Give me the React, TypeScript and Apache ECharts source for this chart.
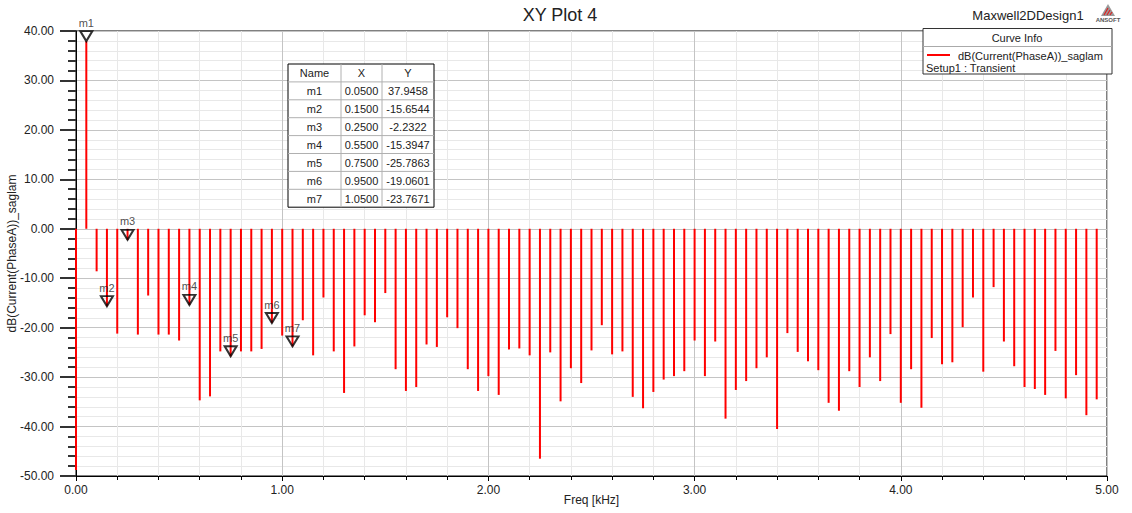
import React, { useEffect, useRef } from "react";
import * as echarts from "echarts";

const freqs = [
  0.0, 0.05, 0.1, 0.15, 0.2, 0.25, 0.3, 0.35, 0.4, 0.45,
  0.5, 0.55, 0.6, 0.65, 0.7, 0.75, 0.8, 0.85, 0.9, 0.95,
  1.0, 1.05, 1.1, 1.15, 1.2, 1.25, 1.3, 1.35, 1.4, 1.45,
  1.5, 1.55, 1.6, 1.65, 1.7, 1.75, 1.8, 1.85, 1.9, 1.95,
  2.0, 2.05, 2.1, 2.15, 2.2, 2.25, 2.3, 2.35, 2.4, 2.45,
  2.5, 2.55, 2.6, 2.65, 2.7, 2.75, 2.8, 2.85, 2.9, 2.95,
  3.0, 3.05, 3.1, 3.15, 3.2, 3.25, 3.3, 3.35, 3.4, 3.45,
  3.5, 3.55, 3.6, 3.65, 3.7, 3.75, 3.8, 3.85, 3.9, 3.95,
  4.0, 4.05, 4.1, 4.15, 4.2, 4.25, 4.3, 4.35, 4.4, 4.45,
  4.5, 4.55, 4.6, 4.65, 4.7, 4.75, 4.8, 4.85, 4.9, 4.95,
];

const dbValues = [
  -48.8, 37.9458, -8.6, -15.6544, -21.2, -2.2322, -21.4, -13.5, -21.4, -21.4,
  -22.6, -15.3947, -34.7, -33.9, -24.8, -25.7863, -24.8, -24.8, -24.3, -19.0601,
  -21.6, -23.7671, -18.5, -25.6, -13.9, -24.8, -33.2, -23.8, -17.5, -18.9,
  -13.0, -28.4, -32.8, -32.0, -23.4, -23.9, -17.9, -20.1, -28.4, -32.8,
  -29.8, -33.6, -24.4, -24.2, -25.6, -46.5, -25.0, -34.9, -28.2, -31.2,
  -24.6, -19.5, -25.4, -24.8, -34.0, -36.3, -33.0, -30.5, -29.8, -28.8,
  -22.6, -29.8, -22.8, -38.4, -32.6, -30.8, -28.2, -26.0, -40.5, -21.1,
  -24.9, -26.8, -28.6, -35.2, -36.8, -28.8, -32.0, -26.0, -30.8, -21.3,
  -35.2, -28.4, -36.2, -22.1, -27.4, -27.0, -19.9, -13.9, -28.9, -11.8,
  -22.8, -27.8, -32.0, -32.4, -33.6, -24.7, -34.3, -29.6, -37.7, -34.5,
];

const markerNames = ["m1", "m2", "m3", "m4", "m5", "m6", "m7"];
const markerX = [0.05, 0.15, 0.25, 0.55, 0.75, 0.95, 1.05];
const markerY = [37.9458, -15.6544, -2.2322, -15.3947, -25.7863, -19.0601, -23.7671];

const tableHeaders = ["Name", "X", "Y"];

const FONT = "'Liberation Sans', Arial, sans-serif";
const ZTOP = 100;

function buildTable() {
  const left = 288;
  const top = 64;
  const colW = [53, 41, 52];
  const rowH = 17.9;
  const totalW = colW.reduce((a, b) => a + b, 0);
  const rows = markerNames.length + 1;
  const totalH = rowH * rows;
  const children: any[] = [];
  children.push({
    type: "rect",
    z: ZTOP,
    shape: { x: left, y: top, width: totalW, height: totalH },
    style: { fill: "#fff", stroke: "#000", lineWidth: 1 },
  });
  for (let r = 1; r < rows; r++) {
    children.push({
      type: "line",
      z: ZTOP + 1,
      shape: { x1: left, y1: top + r * rowH, x2: left + totalW, y2: top + r * rowH },
      style: { stroke: "#b0b0b0", lineWidth: 1 },
    });
  }
  let cx = left;
  for (let c = 0; c < colW.length - 1; c++) {
    cx += colW[c];
    children.push({
      type: "line",
      z: ZTOP + 1,
      shape: { x1: cx, y1: top, x2: cx, y2: top + totalH },
      style: { stroke: "#b0b0b0", lineWidth: 1 },
    });
  }
  const cellText = (r: number, c: number) => {
    if (r === 0) return tableHeaders[c];
    const i = r - 1;
    if (c === 0) return markerNames[i];
    if (c === 1) return markerX[i].toFixed(4);
    return markerY[i].toFixed(4);
  };
  for (let r = 0; r < rows; r++) {
    let x0 = left;
    for (let c = 0; c < colW.length; c++) {
      children.push({
        type: "text",
        z: ZTOP + 2,
        style: {
          text: cellText(r, c),
          x: x0 + colW[c] / 2,
          y: top + r * rowH + rowH / 2 + 0.5,
          align: "center",
          verticalAlign: "middle",
          fontSize: 11,
          fontFamily: FONT,
          fill: "#222",
        },
      });
      x0 += colW[c];
    }
  }
  return { type: "group", silent: true, children };
}

function buildLegend() {
  return {
    type: "group",
    silent: true,
    children: [
      {
        type: "rect",
        z: ZTOP,
        shape: { x: 923, y: 28.5, width: 189, height: 45.5 },
        style: { fill: "#fff", stroke: "#333", lineWidth: 1 },
      },
      {
        type: "line",
        z: ZTOP + 1,
        shape: { x1: 923, y1: 46.5, x2: 1112, y2: 46.5 },
        style: { stroke: "#aaa", lineWidth: 1 },
      },
      {
        type: "text",
        z: ZTOP + 2,
        style: {
          text: "Curve Info", x: 1017, y: 37.5, align: "center", verticalAlign: "middle",
          fontSize: 11, fontFamily: FONT, fill: "#222",
        },
      },
      {
        type: "line",
        z: ZTOP + 2,
        shape: { x1: 927, y1: 55, x2: 950, y2: 55 },
        style: { stroke: "#ff0000", lineWidth: 2 },
      },
      {
        type: "text",
        z: ZTOP + 2,
        style: {
          text: "dB(Current(PhaseA))_saglam", x: 958, y: 55.5, align: "left", verticalAlign: "middle",
          fontSize: 11, fontFamily: FONT, fill: "#222",
        },
      },
      {
        type: "text",
        z: ZTOP + 2,
        style: {
          text: "Setup1 : Transient", x: 926, y: 68, align: "left", verticalAlign: "middle",
          fontSize: 11, fontFamily: FONT, fill: "#222",
        },
      },
    ],
  };
}

function buildHeader() {
  return {
    type: "group",
    silent: true,
    children: [
      {
        type: "text",
        z: ZTOP,
        style: {
          text: "XY Plot 4", x: 560, y: 15, align: "center", verticalAlign: "middle",
          fontSize: 18, fontFamily: FONT, fill: "#222",
        },
      },
      {
        type: "text",
        z: ZTOP,
        style: {
          text: "Maxwell2DDesign1", x: 1028, y: 15, align: "center", verticalAlign: "middle",
          fontSize: 13, fontFamily: FONT, fill: "#222",
        },
      },
      {
        type: "polygon",
        z: ZTOP,
        shape: { points: [[1101, 16], [1108, 4], [1115, 16]] },
        style: { fill: "#9a9a9a" },
      },
      {
        type: "polyline",
        z: ZTOP + 1,
        shape: { points: [[1104, 15], [1108, 8]] },
        style: { stroke: "#e02020", lineWidth: 1.2 },
      },
      {
        type: "polyline",
        z: ZTOP + 1,
        shape: { points: [[1107, 15], [1110, 10]] },
        style: { stroke: "#e02020", lineWidth: 1.2 },
      },
      {
        type: "polyline",
        z: ZTOP + 1,
        shape: { points: [[1110, 15], [1112, 12]] },
        style: { stroke: "#e02020", lineWidth: 1.2 },
      },
      {
        type: "text",
        z: ZTOP,
        style: {
          text: "ANSOFT", x: 1108, y: 19.5, align: "center", verticalAlign: "middle",
          fontSize: 6, fontWeight: "bold", fontFamily: FONT, fill: "#555",
        },
      },
    ],
  };
}

export default function App() {
  const ref = useRef<HTMLDivElement>(null);
  useEffect(() => {
    if (!ref.current) return;
    const chart = echarts.init(ref.current, null, { renderer: "svg" });
    const option: any = {
      animation: false,
      backgroundColor: "#fff",
      textStyle: { fontFamily: FONT },
      grid: {
        left: 76, right: 25, top: 31, bottom: 37,
        containLabel: false,
        outerBoundsMode: "none",
        show: true, borderColor: "#000", borderWidth: 1, backgroundColor: "transparent",
      },
      xAxis: {
        type: "value",
        min: 0, max: 5, interval: 1,
        name: "Freq [kHz]",
        nameLocation: "middle",
        nameGap: 18,
        nameMoveOverlap: false,
        nameTextStyle: { fontSize: 12, color: "#222", fontFamily: FONT, verticalAlign: "top" },
        axisLine: { show: true, onZero: false, lineStyle: { color: "#000", width: 1 } },
        axisTick: { show: true, inside: false, length: 5, lineStyle: { color: "#000" } },
        minorTick: { show: true, splitNumber: 5, length: 4, lineStyle: { color: "#000" } },
        axisLabel: {
          fontSize: 12, color: "#222", margin: 8, fontFamily: FONT,
          formatter: (v: number) => v.toFixed(2),
        },
        splitLine: { show: true, lineStyle: { color: "#c4c4c4", width: 1 } },
        minorSplitLine: { show: true, lineStyle: { color: "#e8e8e8", width: 1 } },
      },
      yAxis: {
        type: "value",
        min: -50, max: 40, interval: 10,
        name: "dB(Current(PhaseA))_saglam",
        nameLocation: "middle",
        nameGap: 58,
        nameMoveOverlap: false,
        nameTextStyle: { fontSize: 12, color: "#222", fontFamily: FONT },
        axisLine: { show: true, onZero: false, lineStyle: { color: "#000", width: 1 } },
        axisTick: { show: true, inside: false, length: 16, lineStyle: { color: "#333", width: 2 } },
        minorTick: { show: true, splitNumber: 5, length: 8, lineStyle: { color: "#333", width: 2 } },
        axisLabel: {
          fontSize: 12, color: "#222", margin: 22, fontFamily: FONT,
          formatter: (v: number) => v.toFixed(2),
        },
        splitLine: { show: true, lineStyle: { color: "#c4c4c4", width: 1 } },
        minorSplitLine: { show: true, lineStyle: { color: "#e8e8e8", width: 1 } },
      },
      series: [
        {
          type: "bar",
          name: "dB(Current(PhaseA))_saglam",
          data: freqs.map((f, i) => [f, dbValues[i]]),
          barWidth: 2,
          itemStyle: { color: "#ff0000" },
          silent: true,
          z: 3,
        },
        {
          type: "scatter",
          name: "markers",
          clip: false,
          z: 10,
          data: markerNames.map((n, i) => ({ name: n, value: [markerX[i], markerY[i]] })),
          symbol: "path://M0,0L10,0L5,9Z",
          symbolSize: [12, 10],
          symbolOffset: [0, -5],
          itemStyle: { color: "rgba(0,0,0,0)", borderColor: "#000", borderWidth: 2 },
          label: {
            show: true,
            position: "top",
            distance: 2,
            formatter: (p: any) => p.name,
            fontSize: 11,
            color: "#222",
            fontFamily: FONT,
          },
          silent: true,
        },
      ],
      graphic: [buildHeader(), buildTable(), buildLegend()],
    };
    chart.setOption(option);
    return () => chart.dispose();
  }, []);
  return (
    <div
      ref={ref}
      style={{ position: "fixed", left: 0, top: 0, width: 1132, height: 513 }}
    />
  );
}
